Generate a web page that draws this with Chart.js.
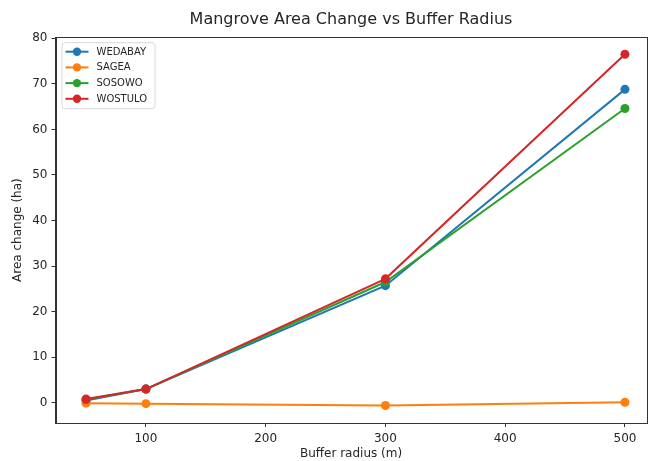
<!DOCTYPE html>
<html>
<head>
<meta charset="utf-8">
<script src="https://cdn.jsdelivr.net/npm/chart.js@4.4.1/dist/chart.umd.min.js"></script>
<style>
html,body{margin:0;padding:0;background:#fff;}
#wrap{width:651px;height:461px;position:relative;}
</style>
</head>
<body>
<div id="wrap"><canvas id="c" width="651" height="461"></canvas></div>
<script>
const radius = [50, 100, 300, 500];
const wedabay = [0.5, 3.0, 25.7, 68.8];
const sagea = [-0.1, -0.2, -0.6, 0.1];
const sosowo = [0.7, 3.0, 26.5, 64.6];
const wostulo = [0.8, 3.0, 27.2, 76.5];
const xTicks = [100, 200, 300, 400, 500];
const yTicks = [0, 10, 20, 30, 40, 50, 60, 70, 80];
const seriesNames = ['WEDABAY', 'SAGEA', 'SOSOWO', 'WOSTULO'];
const seriesColors = ['#1f77b4', '#ff7f0e', '#2ca02c', '#d62728'];
const seriesValues = [wedabay, sagea, sosowo, wostulo];

const FONT = "'DejaVu Sans', sans-serif";
const TXT = '#262626';

const datasets = seriesNames.map((n, i) => ({
  label: n,
  data: radius.map((x, j) => ({x: x, y: seriesValues[i][j]})),
  borderColor: seriesColors[i],
  backgroundColor: seriesColors[i],
  pointBackgroundColor: seriesColors[i],
  pointBorderColor: seriesColors[i],
  borderWidth: 2,
  pointRadius: 4.5,
  pointBorderWidth: 0,
  tension: 0,
  order: seriesNames.length - 1 - i
}));

const frame = {
  id: 'frame',
  afterDraw(chart) {
    const {ctx, chartArea: a} = chart;
    ctx.save();
    ctx.strokeStyle = '#333';
    ctx.lineWidth = 1;
    ctx.strokeRect(Math.round(a.left) + 0.5, Math.round(a.top) + 0.5, Math.round(a.right - a.left), Math.round(a.bottom - a.top));
    ctx.restore();
  }
};

const mplLegend = {
  id: 'mplLegend',
  afterDraw(chart) {
    const {ctx, chartArea: a} = chart;
    const x0 = a.left + 6, y0 = a.top + 5;
    const w = 93, h = 66;
    ctx.save();
    ctx.fillStyle = 'rgba(255,255,255,0.85)';
    ctx.strokeStyle = '#d8d8d8';
    ctx.lineWidth = 1;
    ctx.beginPath();
    ctx.roundRect(x0 + 0.5, y0 + 0.5, w, h, 3);
    ctx.fill();
    ctx.stroke();
    ctx.font = '10px ' + FONT;
    ctx.textBaseline = 'middle';
    seriesNames.forEach((n, i) => {
      const yy = y0 + 9.5 + i * 15.7;
      ctx.strokeStyle = seriesColors[i];
      ctx.lineWidth = 2;
      ctx.beginPath();
      ctx.moveTo(x0 + 4, yy);
      ctx.lineTo(x0 + 27, yy);
      ctx.stroke();
      ctx.fillStyle = seriesColors[i];
      ctx.beginPath();
      ctx.arc(x0 + 15.5, yy, 4.2, 0, Math.PI * 2);
      ctx.fill();
      ctx.fillStyle = TXT;
      ctx.fillText(n, x0 + 35, yy + 0.5);
    });
    ctx.restore();
  }
};

new Chart(document.getElementById('c'), {
  type: 'line',
  data: {datasets},
  options: {
    responsive: false,
    animation: false,
    layout: {padding: {left: 0, right: 3, top: 0, bottom: 0}},
    plugins: {
      legend: {display: false},
      tooltip: {enabled: false},
      title: {
        display: true,
        fullSize: false,
        text: 'Mangrove Area Change vs Buffer Radius',
        color: TXT,
        font: {family: FONT, size: 16, weight: 'normal'},
        padding: {top: 10, bottom: 8}
      }
    },
    scales: {
      x: {
        type: 'linear',
        min: 24.5,
        max: 518,
        afterBuildTicks: ax => { ax.ticks = xTicks.map(v => ({value: v})); },
        afterFit: ax => { ax.height = 38; },
        grid: {display: true, drawOnChartArea: false, drawTicks: true, tickLength: 4, color: '#333'},
        border: {display: true, color: '#333'},
        ticks: {color: TXT, font: {family: FONT, size: 12}, padding: 5, maxRotation: 0},
        title: {display: true, text: 'Buffer radius (m)', color: TXT, font: {family: FONT, size: 12}, padding: {top: 0, bottom: 0}}
      },
      y: {
        type: 'linear',
        min: -4.45,
        max: 80.25,
        afterBuildTicks: ax => { ax.ticks = yTicks.map(v => ({value: v})); },
        afterFit: ax => { ax.width = 55.5; },
        grid: {display: true, drawOnChartArea: false, drawTicks: true, tickLength: 4, color: '#333'},
        border: {display: true, color: '#333'},
        ticks: {color: TXT, font: {family: FONT, size: 12}, padding: 4},
        title: {display: true, text: 'Area change (ha)', color: TXT, font: {family: FONT, size: 12}, padding: {top: 11, bottom: 0}}
      }
    }
  },
  plugins: [frame, mplLegend]
});
</script>
</body>
</html>
